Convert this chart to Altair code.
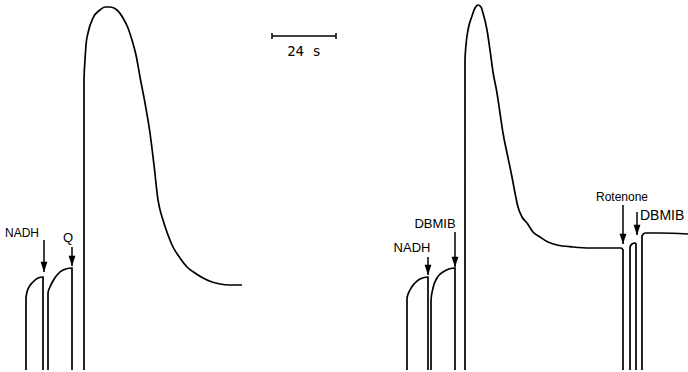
import altair as alt
import pandas as pd

# ---- trace segments (time position, pen deflection measured from top of the record) ----
segA1_x = [26, 26, 27, 29, 33, 38, 43, 43]
segA1_y = [370, 298, 292, 287, 282, 278, 277, 370]
segA2_x = [48, 48, 50, 53, 57, 63, 72, 72]
segA2_y = [370, 293, 287, 281, 275, 270, 268, 370]
segA3_x = [84, 84, 85, 86, 88, 93, 100, 105, 110, 117, 123, 128, 132, 136, 140, 145, 150, 154,
           158, 163, 168, 173, 180, 187, 195, 203, 212, 220, 230, 242]
segA3_y = [370, 80, 60, 45, 33, 18, 10, 7, 7, 10, 18, 28, 40, 55, 77, 103, 133, 165,
           200, 220, 235, 247, 258, 267, 273, 278, 282, 284, 285, 285]
segB1_x = [407, 407, 410, 415, 420, 428, 428]
segB1_y = [370, 298, 290, 283, 279, 277, 370]
segB2_x = [431, 431, 433, 437, 443, 455, 455]
segB2_y = [370, 300, 288, 278, 272, 268, 370]
segB3_x = [465, 465, 466, 468, 472, 475, 478, 481, 483, 487, 490, 493, 497, 500, 503, 507, 512,
           515, 518, 522, 527, 533, 540, 548, 557, 573, 590, 607, 621, 623, 623]
segB3_y = [370, 60, 45, 30, 16, 8, 5, 7, 13, 30, 50, 72, 93, 113, 133, 153, 177,
           193, 207, 217, 223, 232, 237, 242, 245, 247, 248, 248, 248, 250, 370]
segB4_x = [630, 630, 632, 635, 636, 636]
segB4_y = [370, 247, 244, 243, 244, 370]
segB5_x = [642, 642, 645, 660, 688]
segB5_y = [370, 236, 233, 233, 234]

segments = {
    "A1": (segA1_x, segA1_y), "A2": (segA2_x, segA2_y), "A3": (segA3_x, segA3_y),
    "B1": (segB1_x, segB1_y), "B2": (segB2_x, segB2_y), "B3": (segB3_x, segB3_y),
    "B4": (segB4_x, segB4_y), "B5": (segB5_x, segB5_y),
}

# ---- additions (arrows) ----
arrow_x = [44, 72, 428, 455, 623, 637]
arrow_top = [240, 247, 257, 232, 205, 212]
arrow_tip = [272, 266, 275, 267, 244, 235]

# ---- labels ----
label_text = ["NADH", "Q", "NADH", "DBMIB", "Rotenone", "DBMIB"]
label_x = [22, 68, 412, 435, 622, 640]
label_y = [233, 238, 248, 224, 197, 216]
label_align = ["center", "center", "center", "center", "center", "left"]
label_size = [12, 13, 13, 13, 12, 14]

# ---- time scale bar ----
bar_x = [272, 336]
bar_y = [36, 36]
bar_text = "24 s"

rows = []
for name, (xs, ys) in segments.items():
    for i, (x, y) in enumerate(zip(xs, ys)):
        rows.append({"seg": name, "i": i, "t": x, "v": y})
trace = pd.DataFrame(rows)

arrows = pd.DataFrame({"t": arrow_x, "top": arrow_top, "tip": arrow_tip})
arrows["head"] = [tp - 5 for tp in arrow_tip]
labels = pd.DataFrame({"txt": label_text, "t": label_x, "v": label_y,
                       "al": label_align, "fs": label_size})
bar = pd.DataFrame({"t": [bar_x[0]], "t2": [bar_x[1]], "v": [bar_y[0]]})
bar_ends = pd.DataFrame({"t": bar_x, "v1": [y - 3 for y in bar_y], "v2": [y + 3 for y in bar_y]})
bar_lab = pd.DataFrame({"t": [(bar_x[0] + bar_x[1]) / 2], "v": [52], "txt": [bar_text]})

X = alt.Scale(domain=[0, 688], nice=False, zero=False)
Y = alt.Scale(domain=[0, 372], nice=False, zero=False, reverse=True)

lines = alt.Chart(trace).mark_line(color="black", strokeWidth=1.7, interpolate="monotone").encode(
    x=alt.X("t:Q", scale=X, axis=None),
    y=alt.Y("v:Q", scale=Y, axis=None),
    detail="seg:N",
    order="i:Q",
)

stems = alt.Chart(arrows).mark_rule(color="black", strokeWidth=1.5).encode(
    x=alt.X("t:Q", scale=X), y=alt.Y("top:Q", scale=Y), y2="tip:Q"
)
heads = alt.Chart(arrows).mark_point(
    shape="M-0.65,-1L0.65,-1L0,1Z", filled=True, size=110, color="black", opacity=1
).encode(x=alt.X("t:Q", scale=X), y=alt.Y("head:Q", scale=Y))

texts_c = alt.Chart(labels[labels["al"] == "center"]).mark_text(
    font="Liberation Sans", align="center", baseline="middle", color="black"
).encode(x=alt.X("t:Q", scale=X), y=alt.Y("v:Q", scale=Y), text="txt:N",
         size=alt.Size("fs:Q", scale=None))
texts_l = alt.Chart(labels[labels["al"] == "left"]).mark_text(
    font="Liberation Sans", align="left", baseline="middle", color="black"
).encode(x=alt.X("t:Q", scale=X), y=alt.Y("v:Q", scale=Y), text="txt:N",
         size=alt.Size("fs:Q", scale=None))

bar_rule = alt.Chart(bar).mark_rule(color="black", strokeWidth=1.5).encode(
    x=alt.X("t:Q", scale=X), x2="t2:Q", y=alt.Y("v:Q", scale=Y)
)
bar_ticks = alt.Chart(bar_ends).mark_rule(color="black", strokeWidth=1.5).encode(
    x=alt.X("t:Q", scale=X), y=alt.Y("v1:Q", scale=Y), y2="v2:Q"
)
bar_text_mark = alt.Chart(bar_lab).mark_text(
    font="DejaVu Sans Mono", fontSize=14, align="center", baseline="middle", color="black"
).encode(x=alt.X("t:Q", scale=X), y=alt.Y("v:Q", scale=Y), text="txt:N")

chart = alt.layer(lines, stems, heads, texts_c, texts_l, bar_rule, bar_ticks, bar_text_mark).properties(
    width=688, height=372, autosize=alt.AutoSizeParams(type="none"), padding=0, background="white"
).configure_view(stroke=None)

chart.save("out.html", embed_options={"renderer": "svg", "actions": False})
